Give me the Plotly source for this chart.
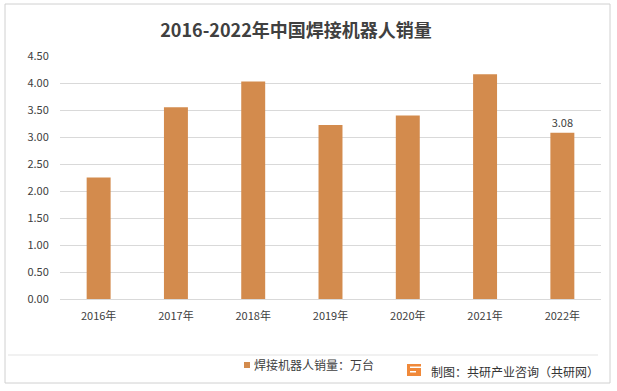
import plotly.graph_objects as go

years = ["2016年", "2017年", "2018年", "2019年", "2020年", "2021年", "2022年"]
sales = [2.25, 3.55, 4.03, 3.22, 3.40, 4.16, 3.08]
labels = ["", "", "", "", "", "", "3.08"]
y_ticks = [0, 0.5, 1, 1.5, 2, 2.5, 3, 3.5, 4, 4.5]

W, H = 617, 391
L, R, T, B = 60, 16, 56, 92
PW, PH = W - L - R, H - T - B

def px(x):
    return (x - L) / PW

def py(y):
    return (H - B - y) / PH

BAR = "#D38B4D"
FONT = "Noto Sans CJK SC"

fig = go.Figure()
fig.add_trace(go.Bar(
    x=years, y=sales, width=0.31, marker=dict(color=BAR, line=dict(width=0)),
    text=labels, textposition="outside", cliponaxis=False,
    textfont=dict(family=FONT, size=11, color="#404040"),
    showlegend=False,
))

fig.update_layout(
    width=W, height=H, margin=dict(l=L, r=R, t=T, b=B),
    paper_bgcolor="white", plot_bgcolor="white",
    font=dict(family=FONT, color="#404040"),
    title=dict(text="<b>2016-2022年中国焊接机器人销量</b>", x=296 / W, xanchor="center",
               y=1 - 31 / H, yanchor="middle",
               font=dict(family=FONT, size=18, color="#404040")),
    bargap=0.69,
    xaxis=dict(showgrid=False, ticks="outside", ticklen=7, tickcolor="rgba(0,0,0,0)",
               tickfont=dict(size=11, color="#404040"), showline=False),
    yaxis=dict(range=[0, 4.5], tickvals=y_ticks, tickformat=".2f", gridcolor="#D9D9D9",
               gridwidth=1, zeroline=True, zerolinecolor="#D9D9D9", zerolinewidth=1,
               ticks="outside", ticklen=8, tickcolor="rgba(0,0,0,0)",
               tickfont=dict(size=11, color="#404040"), showline=False),
)

shapes = [
    dict(type="rect", xref="paper", yref="paper", x0=px(5), x1=px(610), y0=py(383), y1=py(4),
         line=dict(color="#D0D0D0", width=1), fillcolor="rgba(0,0,0,0)", layer="below"),
    dict(type="line", xref="paper", yref="paper", x0=px(8), x1=px(598), y0=py(355), y1=py(355),
         line=dict(color="#E3E3E3", width=1)),
    dict(type="rect", xref="paper", yref="paper", x0=px(244), x1=px(250), y0=py(368), y1=py(362),
         line=dict(width=0), fillcolor=BAR),
    dict(type="rect", xref="paper", yref="paper", x0=px(407), x1=px(421), y0=py(376), y1=py(364),
         line=dict(width=0), fillcolor="#F0893A"),
    dict(type="rect", xref="paper", yref="paper", x0=px(410), x1=px(421), y0=py(368), y1=py(366.5),
         line=dict(width=0), fillcolor="white"),
    dict(type="rect", xref="paper", yref="paper", x0=px(410), x1=px(416), y0=py(372.5), y1=py(371),
         line=dict(width=0), fillcolor="white"),
]
fig.update_layout(shapes=shapes)

fig.add_annotation(xref="paper", yref="paper", x=px(252), y=py(365), xanchor="left", yanchor="middle",
                   text="焊接机器人销量：万台", showarrow=False,
                   font=dict(family=FONT, size=12, color="#404040"))
fig.add_annotation(xref="paper", yref="paper", x=px(429), y=py(371), xanchor="left", yanchor="middle",
                   text="制图：共研产业咨询（共研网）", showarrow=False,
                   font=dict(family=FONT, size=12, color="#333333"))

fig.write_html("out.html", config={"displayModeBar": False},
               post_script="document.body.style.margin='0';document.body.style.overflow='hidden';")
